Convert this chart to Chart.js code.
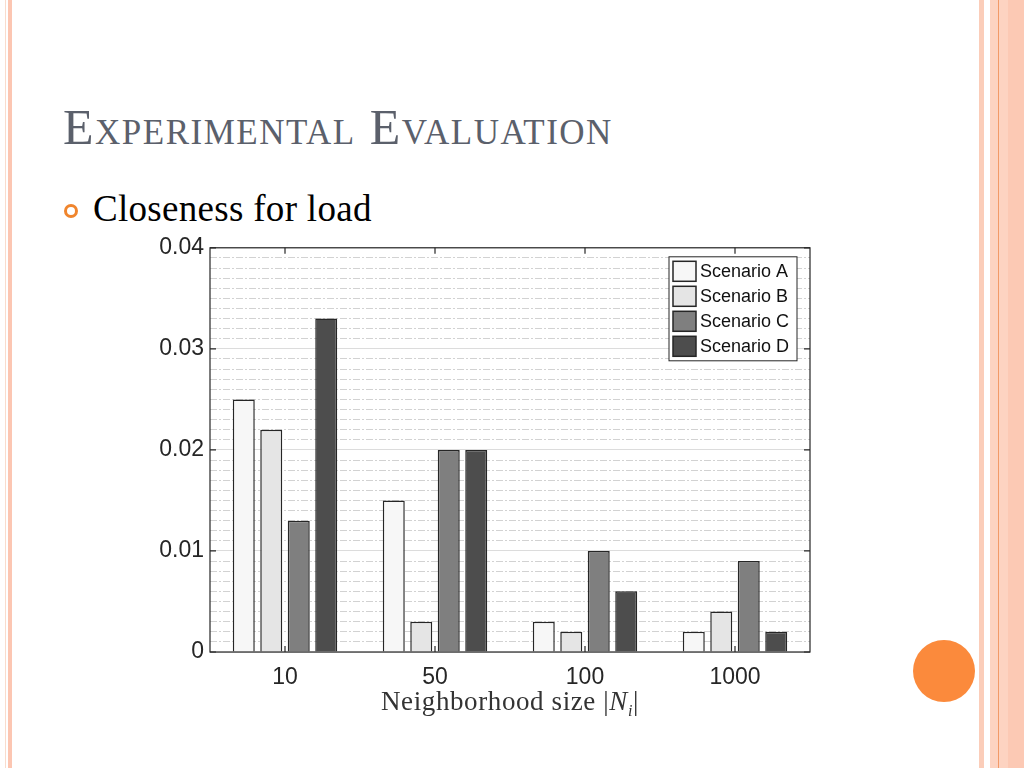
<!DOCTYPE html>
<html>
<head>
<meta charset="utf-8">
<script src="https://cdn.jsdelivr.net/npm/chart.js@4"></script>
<style>
  html, body { margin: 0; padding: 0; background: #fff; }
  body { width: 1024px; height: 768px; position: relative; overflow: hidden; }
  .stripe { position: absolute; top: 0; height: 768px; }
  #title {
    position: absolute; left: 63px; top: 98px; margin: 0;
    font: 50px "Liberation Serif", "DejaVu Serif", serif; font-variant: small-caps;
    letter-spacing: 1.5px; color: #5b606b; white-space: nowrap; font-weight: normal;
  }
  #bullet { position: absolute; left: 64px; top: 204px; width: 8px; height: 8px;
    border: 3px solid #f0852d; border-radius: 50%; }
  #point { position: absolute; left: 93px; top: 187px; margin: 0;
    font: 37px "Liberation Serif", serif; letter-spacing: 0.3px; color: #000; white-space: nowrap; }
  #wrap { position: absolute; left: 150px; top: 228px; width: 670px; height: 460px; }
  #xtitle { position: absolute; left: 381px; top: 686px; margin: 0;
    font: 27px "Liberation Serif", serif; letter-spacing: 0.6px; color: #333; white-space: nowrap; }
  #xtitle sub { font-size: 16px; }
  #dot { position: absolute; left: 913px; top: 640px; width: 62px; height: 62px;
    border-radius: 50%; background: #fb8a3c; }
</style>
</head>
<body>
<div class="stripe" style="left:5px;width:1px;background:#f9dccd"></div>
<div class="stripe" style="left:8px;width:4px;background:#fcc6b2"></div>
<div class="stripe" style="left:979px;width:5px;background:#fbcdb9"></div>
<div class="stripe" style="left:990px;width:34px;background:#fdd3c1"></div>
<div class="stripe" style="left:998px;width:1px;background:#f29a68"></div>
<div class="stripe" style="left:1008px;width:16px;background:#fcc9b4"></div>

<h1 id="title">Experimental Evaluation</h1>
<div id="bullet"></div>
<p id="point">Closeness for load</p>
<div id="wrap"><canvas id="chart"></canvas></div>
<p id="xtitle">Neighborhood size |<i>N</i><sub><i>i</i></sub>|</p>
<div id="dot"></div>

<script>
// ===== Data =====
const categories = ['10', '50', '100', '1000'];
const seriesNames = ['Scenario A', 'Scenario B', 'Scenario C', 'Scenario D'];
const scenarioA = [0.025, 0.015, 0.003, 0.002];
const scenarioB = [0.022, 0.003, 0.002, 0.004];
const scenarioC = [0.013, 0.020, 0.010, 0.009];
const scenarioD = [0.033, 0.020, 0.006, 0.002];
const yTicks = [0, 0.01, 0.02, 0.03, 0.04];

const FILLS = ['#f7f7f7', '#e5e5e5', '#7f7f7f', '#4d4d4d'];
const INK = '#262626';

// ── Plugins ────────────────────────────────────────────────────────────────

// Box around the plot plus inward tick marks, as in the MATLAB figure.
const frame = {
  id: 'frame',
  afterDatasetsDraw(chart) {
    const { ctx, chartArea: a, scales } = chart;
    ctx.save();
    ctx.strokeStyle = INK;
    ctx.lineWidth = 1.2;
    ctx.strokeRect(a.left, a.top, a.right - a.left, a.bottom - a.top);
    ctx.beginPath();
    yTicks.forEach(v => {
      const y = scales.y.getPixelForValue(v);
      ctx.moveTo(a.left, y); ctx.lineTo(a.left + 6, y);
      ctx.moveTo(a.right, y); ctx.lineTo(a.right - 6, y);
    });
    categories.forEach((c, i) => {
      const x = scales.x.getPixelForValue(i);
      ctx.moveTo(x, a.top); ctx.lineTo(x, a.top + 6);
      ctx.moveTo(x, a.bottom); ctx.lineTo(x, a.bottom - 6);
    });
    ctx.stroke();
    ctx.restore();
  },
};

// Legend box drawn inside the plot, upper right.
const boxLegend = {
  id: 'boxLegend',
  afterDraw(chart) {
    const { ctx, chartArea: a } = chart;
    const w = 128, rowH = 25, h = rowH * chart.data.datasets.length + 4;
    const x0 = a.right - w - 13, y0 = a.top + 9;
    ctx.save();
    ctx.fillStyle = '#fff';
    ctx.fillRect(x0, y0, w, h);
    ctx.strokeStyle = INK;
    ctx.lineWidth = 1;
    ctx.strokeRect(x0, y0, w, h);
    ctx.font = '18px "Liberation Sans", Arial, sans-serif';
    ctx.textBaseline = 'middle';
    chart.data.datasets.forEach((ds, i) => {
      const cy = y0 + 2 + rowH * i + rowH / 2;
      ctx.fillStyle = ds.backgroundColor;
      ctx.fillRect(x0 + 4, cy - 10, 23, 20);
      ctx.lineWidth = 1.5;
      ctx.strokeRect(x0 + 4, cy - 10, 23, 20);
      ctx.fillStyle = '#111';
      ctx.fillText(ds.label, x0 + 31, cy + 1);
    });
    ctx.restore();
  },
};

// ── Chart ──────────────────────────────────────────────────────────────────

const values = [scenarioA, scenarioB, scenarioC, scenarioD];
const tickFont = { family: '"Liberation Sans", Arial, sans-serif', size: 23 };

new Chart(document.getElementById('chart'), {
  type: 'bar',
  data: {
    labels: categories,
    datasets: seriesNames.map((name, i) => ({
      label: name,
      data: values[i],
      backgroundColor: FILLS[i],
      borderColor: INK,
      borderWidth: 1.5,
      categoryPercentage: 0.733,
      barPercentage: 0.8,
    })),
  },
  options: {
    responsive: true,
    maintainAspectRatio: false,
    animation: false,
    layout: { padding: { top: 0, right: 10 } },
    plugins: { legend: { display: false }, tooltip: { enabled: false } },
    scales: {
      x: {
        grid: { display: false },
        border: { display: false },
        ticks: { color: INK, font: tickFont, padding: 4 },
        afterFit: s => { s.height = 36; },
      },
      y: {
        min: 0, max: 0.04,
        afterBuildTicks: s => { s.ticks = yTicks.map(v => ({ value: v })); },
        grid: { color: '#dcdcdc', lineWidth: 1, drawTicks: false },
        border: { display: false },
        ticks: { color: INK, font: tickFont, padding: 6, callback: v => v === 0 ? '0' : v.toFixed(2) },
        afterFit: s => { s.width = 60; },
      },
      yMinor: {
        position: 'right',
        min: 0, max: 0.04,
        ticks: { display: false, stepSize: 0.001 },
        grid: {
          drawTicks: false,
          lineWidth: 1,
          color: c => (Math.round(c.tick.value * 1000) % 10 === 0 ? 'rgba(0,0,0,0)' : '#d2d2d2'),
        },
        border: { display: false, dash: [7, 2, 2, 2] },
        afterFit: s => { s.width = 0; },
      },
    },
  },
  plugins: [frame, boxLegend],
});
</script>
</body>
</html>
